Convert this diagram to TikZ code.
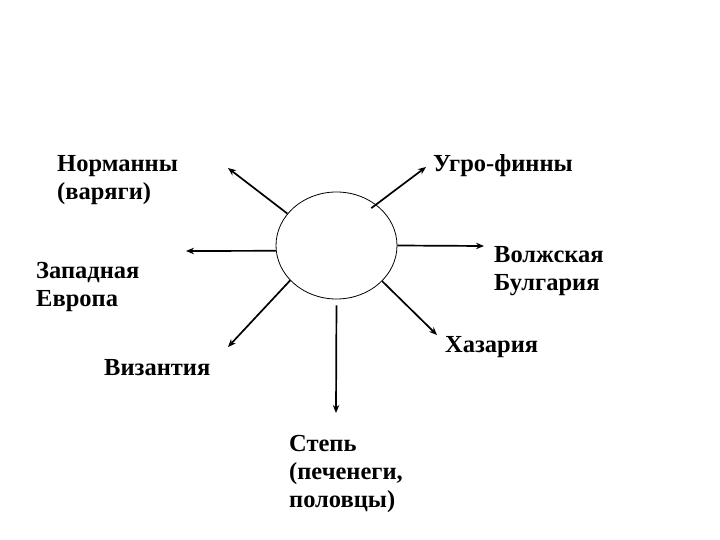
\documentclass[tikz,border=0pt]{standalone}
\usepackage{fontspec}
\setmainfont{Liberation Serif}
\usetikzlibrary{arrows.meta,shapes.geometric}
\begin{document}
\begin{tikzpicture}[x=1pt,y=-1pt,
  lbl/.style={anchor=base west,align=left,inner sep=0pt,
    font=\fontsize{24.5}{28}\selectfont\bfseries},
  arr/.style={line width=1.7pt,-{Stealth[length=8pt,width=6.5pt]}}]
\useasboundingbox (0,0) rectangle (720,540);
\node[ellipse,draw,line width=0.8pt,minimum width=121pt,minimum height=107pt,inner sep=0pt] (c) at (336.5,245.5) {};
\node[lbl] (nor) at (57,200) {Норманны\\(варяги)};
\node[lbl] (ugr) at (433,172) {Угро-финны};
\node[lbl] (zap) at (36,306) {Западная\\Европа};
\node[lbl] (vol) at (494,290) {Волжская\\Булгария};
\node[lbl] (haz) at (445,352) {Хазария};
\node[lbl] (viz) at (104,375) {Византия};
\node[lbl] (ste) at (289,507) {Степь\\(печенеги,\\половцы)};
\coordinate (eNW) at (228,168);
\coordinate (eW) at (186,251);
\coordinate (eSW) at (228,347);
\coordinate (eS) at (336,413);
\coordinate (eSE) at (437,335);
\coordinate (eE) at (484,246);
\coordinate (eNE) at (426,167);
\draw[arr] (c.147) -- (eNW);
\draw[arr] (c.185) -- (eW);
\draw[arr] (c.217) -- (eSW);
\draw[arr,shorten <=6pt] (c.south) -- (eS);
\draw[arr] (c.322) -- (eSE);
\draw[arr] (c.east) -- (eE);
\draw[arr,shorten <=-6pt] (c.46) -- (eNE);
\end{tikzpicture}
\end{document}
